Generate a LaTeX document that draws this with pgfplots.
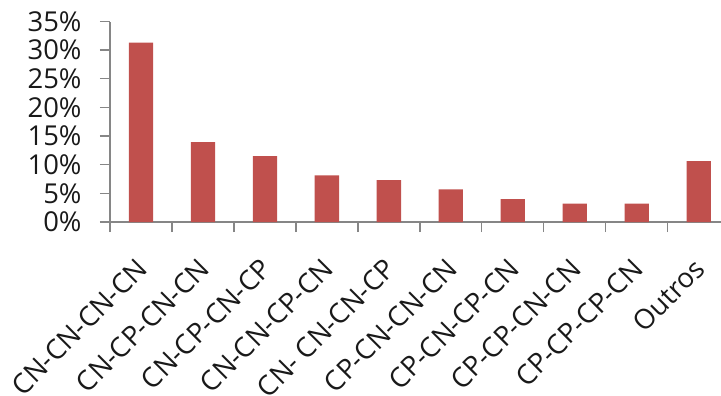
\documentclass[border=0pt]{standalone}
\usepackage{fontspec}
\setmainfont{Open Sans}
\usepackage{pgfplots}
\pgfplotsset{compat=1.18}
\definecolor{barred}{HTML}{C0504D}
\definecolor{axgray}{HTML}{868686}
\begin{document}
\begin{tikzpicture}
\begin{axis}[
  at={(0,0)}, anchor=south west,
  scale only axis, width=619.7bp, height=200.5bp,
  xmin=-0.5, xmax=9.5, ymin=0, ymax=35,
  axis lines*=left,
  axis line style={axgray, line width=1.3bp},
  ytick={0,5,10,15,20,25,30,35},
  yticklabels={0\%,5\%,10\%,15\%,20\%,25\%,30\%,35\%},
  xtick={-0.5,0.5,1.5,2.5,3.5,4.5,5.5,6.5,7.5,8.5,9.5},
  x tick label as interval,
  xticklabels={CN-CN-CN-CN,CN-CP-CN-CN,CN-CP-CN-CP,CN-CN-CP-CN,CN- CN-CN-CP,CP-CN-CN-CN,CP-CN-CP-CN,CP-CP-CN-CN,CP-CP-CP-CN,Outros},
  tick align=outside, major tick length=10bp,
  tick style={axgray, line width=1.3bp},
  ticklabel style={font=\fontsize{27.5}{31}\selectfont, text=black!90},
  yticklabel style={xshift=-15bp},
  xticklabel style={yshift=-20bp, xshift=-6bp, rotate=45, anchor=north east},
  ybar, bar width=24.3bp,
]
\addplot[fill=barred, draw=none] coordinates {
 (0,31.3) (1,13.95) (2,11.5) (3,8.14) (4,7.33) (5,5.7) (6,4.01) (7,3.2) (8,3.2) (9,10.64)};
\end{axis}
\pgfresetboundingbox
\path (-110bp,-174bp) rectangle (611bp,222bp);
\end{tikzpicture}
\end{document}
